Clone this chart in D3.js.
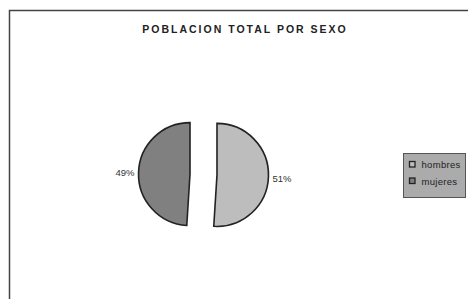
<!DOCTYPE html>
<html lang="es">
<head>
<meta charset="UTF-8">
<title>Poblacion total por sexo</title>
<script src="https://d3js.org/d3.v7.min.js"></script>
<style>
  body { margin: 0; background: #fff; }
  svg { display: block; font-family: Arial, "Liberation Sans", sans-serif; }
</style>
</head>
<body>
<div id="chart"></div>
<script>
// data
const categories = ["hombres", "mujeres"];
const values = [51, 49];
const colors = ["#bdbdbd", "#808080"];
const title = "POBLACION TOTAL POR SEXO";

const W = 468, H = 299;
const svg = d3.select("#chart").append("svg")
    .attr("width", W)
    .attr("height", H);

// chart frame (only top and left visible in the window)
svg.append("rect")
    .attr("x", 9.5).attr("y", 10.5)
    .attr("width", W + 20).attr("height", H + 20)
    .attr("fill", "#fff")
    .attr("stroke", "#444")
    .attr("stroke-width", 1.5);

svg.append("text")
    .attr("x", 245).attr("y", 32.5)
    .attr("text-anchor", "middle")
    .style("font-size", "10.5px")
    .style("font-weight", "bold")
    .style("letter-spacing", "2px")
    .attr("fill", "#222")
    .text(title);

// pie
const cx = 203.5, cy = 174.5, r = 51.5, explode = 13.5;
const data = categories.map((c, i) => ({ name: c, value: values[i], color: colors[i] }));

const pie = d3.pie().sort(null).value(d => d.value);
const arc = d3.arc().innerRadius(0).outerRadius(r);
const arcs = pie(data);

const g = svg.append("g").attr("transform", `translate(${cx},${cy})`);

const slice = g.selectAll("g.slice")
    .data(arcs)
    .enter().append("g")
    .attr("class", "slice")
    .attr("transform", d => {
        const a = (d.startAngle + d.endAngle) / 2;
        return `translate(${Math.sin(a) * explode},${-Math.cos(a) * explode})`;
    });

slice.append("path")
    .attr("d", arc)
    .attr("fill", d => d.data.color)
    .attr("stroke", "#222")
    .attr("stroke-width", 1.6)
    .attr("stroke-linejoin", "miter");

const total = d3.sum(values);
slice.append("text")
    .attr("x", d => {
        const a = (d.startAngle + d.endAngle) / 2;
        return Math.sin(a) * (r + 4);
    })
    .attr("y", d => {
        const a = (d.startAngle + d.endAngle) / 2;
        return -Math.cos(a) * (r + 4) + (a < Math.PI ? 5.5 : 4);
    })
    .attr("text-anchor", d => (d.startAngle + d.endAngle) / 2 < Math.PI ? "start" : "end")
    .style("font-size", "9.5px")
    .attr("fill", "#333")
    .text(d => Math.round(d.data.value / total * 100) + "%");

// legend
const legend = svg.append("g").attr("transform", "translate(403.5,153.5)");
legend.append("rect")
    .attr("width", 62).attr("height", 44)
    .attr("fill", "#ababab")
    .attr("stroke", "#555")
    .attr("stroke-width", 1);

const item = legend.selectAll("g.item")
    .data(data)
    .enter().append("g")
    .attr("class", "item")
    .attr("transform", (d, i) => `translate(6,${8 + i * 16.5})`);

item.append("rect")
    .attr("width", 5.5).attr("height", 5.5)
    .attr("fill", d => d.color)
    .attr("stroke", "#222")
    .attr("stroke-width", 1.3);

item.append("text")
    .attr("x", 12).attr("y", 6.5)
    .style("font-size", "9.5px")
    .style("letter-spacing", "0.3px")
    .attr("fill", "#222")
    .text(d => d.name);
</script>
</body>
</html>
